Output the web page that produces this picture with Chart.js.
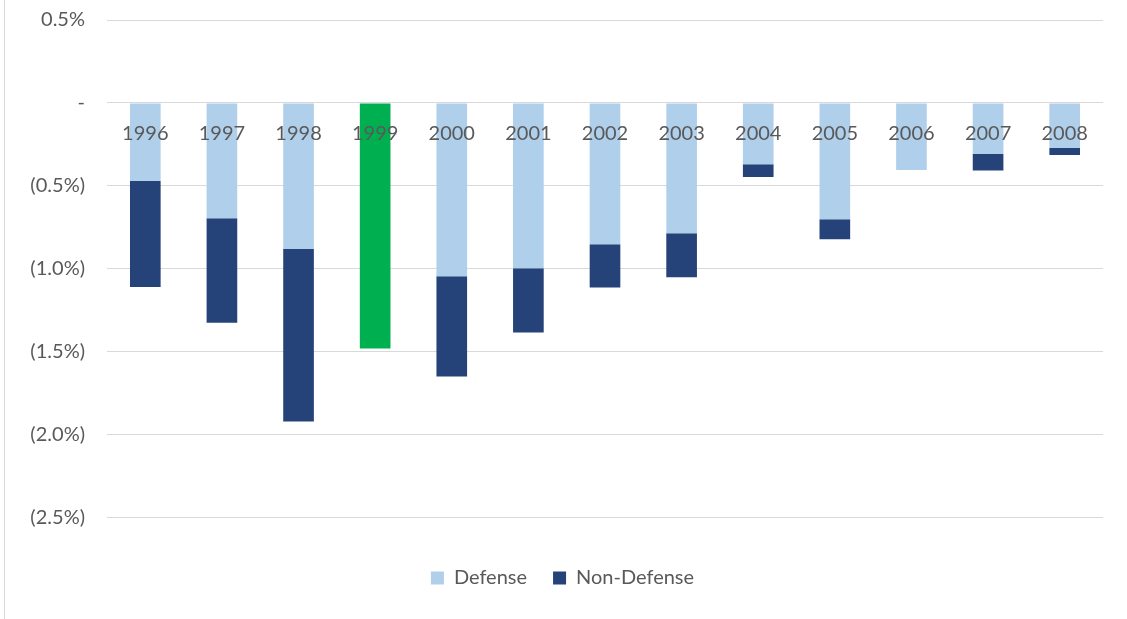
<!DOCTYPE html>
<html>
<head>
<meta charset="utf-8">
<script src="https://cdn.jsdelivr.net/npm/chart.js@4/dist/chart.umd.min.js"></script>
<style>
  html, body { margin: 0; padding: 0; background: #fff; }
  #wrap { position: relative; width: 1127px; height: 619px; }
  #edge { position: absolute; left: 4px; top: 0; width: 1px; height: 619px; background: #d9d9d9; }
</style>
</head>
<body>
<div id="wrap">
  <canvas id="budget-chart" width="1127" height="619"></canvas>
  <div id="edge"></div>
</div>
<script>
// values are % (negative = reduction)
var years = ['1996', '1997', '1998', '1999', '2000', '2001', '2002', '2003', '2004', '2005', '2006', '2007', '2008'];
var defense = [-0.47, -0.695, -0.88, -1.48, -1.045, -0.997, -0.852, -0.785, -0.369, -0.701, -0.405, -0.308, -0.272];
var nonDefense = [-0.64, -0.63, -1.04, 0, -0.605, -0.387, -0.26, -0.266, -0.078, -0.121, 0, -0.10, -0.042];
var highlightYear = '1999';

var lightBlue = '#b0cfeb';
var navy = '#254379';
var green = '#00b050';
var textGray = '#595959';

Chart.defaults.font.family = 'Lato';
Chart.defaults.color = textGray;

function pctLabel(v) {
    if (Math.abs(v) < 1e-9) return '-';
    var s = Math.abs(v).toFixed(1) + '%';
    return v < 0 ? '(' + s + ')' : s;
}

function noVertPadding(scale) {
    scale.paddingTop = 0;
    scale.paddingBottom = 0;
}

var ctx = document.getElementById('budget-chart');
var myChart = new Chart(ctx, {
    type: 'bar',
    data: {
        labels: years,
        datasets: [{
            label: 'Defense',
            data: defense,
            backgroundColor: years.map(y => y === highlightYear ? green : lightBlue),
            borderWidth: 0
        }, {
            label: 'Non-Defense',
            data: nonDefense,
            backgroundColor: navy,
            borderWidth: 0
        }]
    },
    options: {
        responsive: false,
        animation: false,
        datasets: {
            bar: { categoryPercentage: 1.0, barPercentage: 0.4 }
        },
        layout: {
            padding: { left: 22, right: 24, top: 20, bottom: 21 }
        },
        scales: {
            x: {
                stacked: true,
                position: { y: 0 },
                afterFit: noVertPadding,
                grid: { display: false, drawTicks: false },
                border: { display: false },
                // labels sit on top of the bars
                ticks: { z: 1, font: { size: 20 }, color: textGray, padding: 19, maxRotation: 0 }
            },
            y: {
                stacked: true,
                min: -2.5,
                max: 0.5,
                afterFit: function(scale) {
                    scale.width = 85;
                    noVertPadding(scale);
                },
                grid: { color: '#d9d9d9', lineWidth: 1, drawTicks: false },
                border: { display: false },
                ticks: {
                    stepSize: 0.5,
                    padding: 22,
                    font: { size: 20 },
                    color: textGray,
                    callback: function(value) { return pctLabel(value); }
                }
            }
        },
        plugins: {
            tooltip: { enabled: false },
            legend: {
                position: 'bottom',
                title: { display: true, text: ' ', padding: { top: 10, bottom: 0 }, font: { size: 12 } },
                labels: {
                    boxWidth: 13,
                    boxHeight: 13,
                    padding: 26,
                    font: { size: 20 },
                    color: textGray
                }
            }
        }
    }
});
</script>
</body>
</html>
